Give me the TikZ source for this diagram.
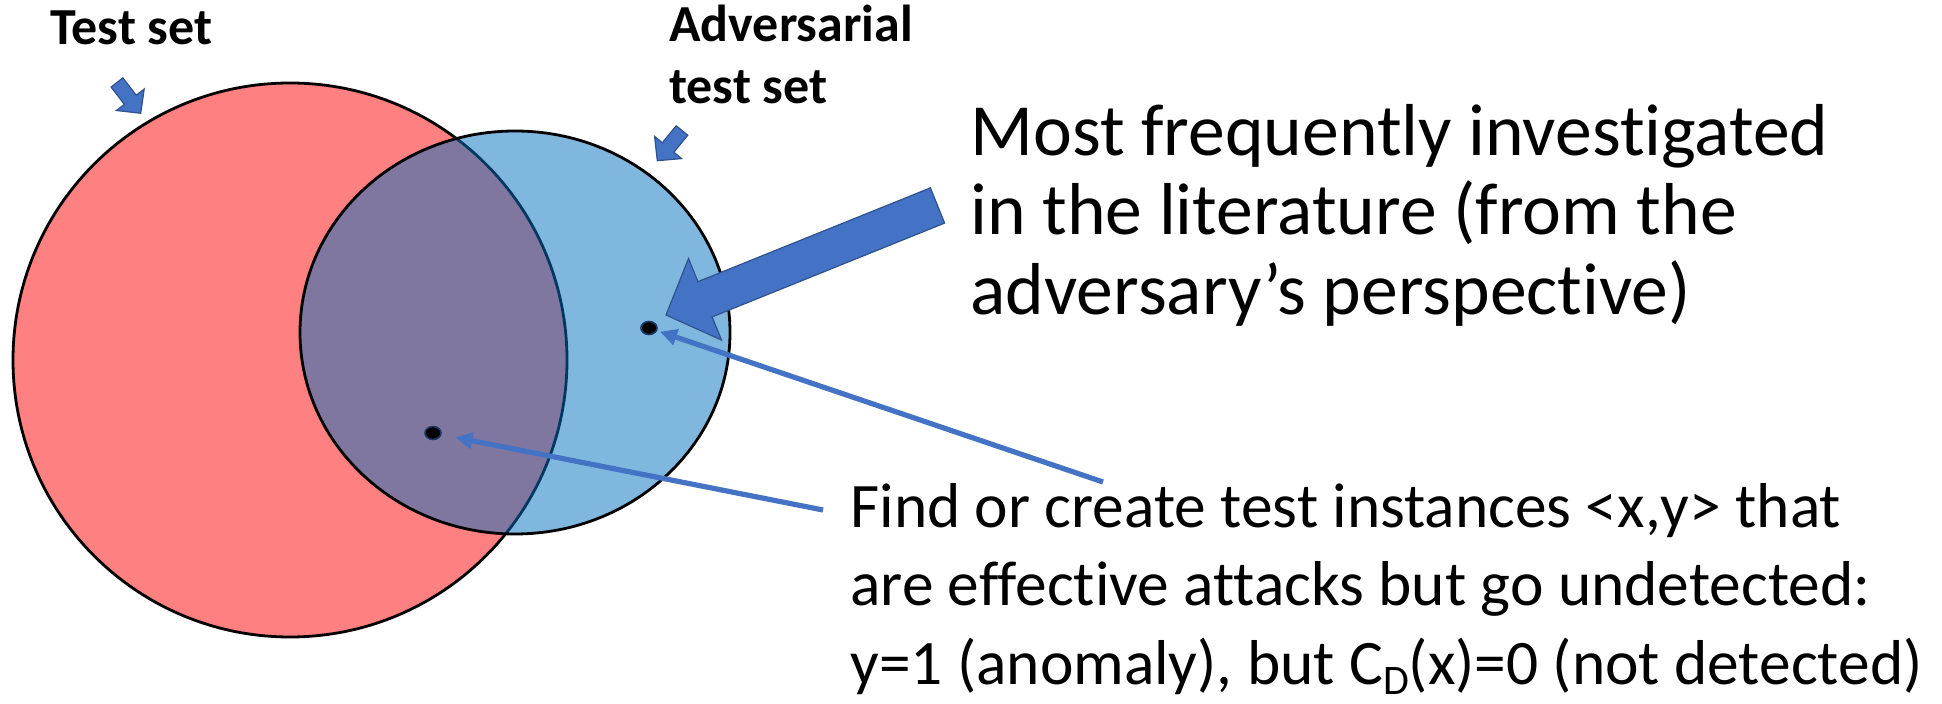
\documentclass[tikz,border=0pt]{standalone}
\usepackage{fontspec}
\setmainfont{Carlito}[Ligatures={TeX,NoCommon}]
\usetikzlibrary{arrows.meta,calc,shapes.geometric}
\definecolor{redfill}{RGB}{255,128,128}
\definecolor{bluefill}{RGB}{0,112,192}
\definecolor{arrowblue}{RGB}{68,114,196}
\definecolor{arrowedge}{RGB}{47,82,143}
\definecolor{dotedge}{RGB}{31,56,100}
\newcommand{\lowsub}[1]{\raisebox{-5pt}{\fontsize{21pt}{24pt}\selectfont #1}}
\begin{document}
\begin{tikzpicture}[x=0.5pt,y=-0.5pt,
  setshape/.style={line width=1.4pt, draw=black, inner sep=0pt},
  blockarrow/.style={fill=arrowblue, draw=arrowedge, line width=0.6pt, line join=miter},
  pointer/.style={draw=arrowblue, line width=2.6pt, -{Triangle[length=8.5pt,width=8pt]}},
  dotmark/.style={ellipse, fill=black, draw=dotedge, line width=0.8pt, minimum width=8pt, minimum height=6.5pt, inner sep=0pt},
  labeltext/.style={anchor=base west, inner sep=0pt, font=\fontsize{26pt}{31pt}\selectfont\bfseries},
  bigtext/.style={anchor=base west, inner sep=0pt, font=\fontsize{36.8pt}{40pt}\selectfont},
  notetext/.style={anchor=base west, inner sep=0pt, font=\fontsize{31.7pt}{39pt}\selectfont}]
\useasboundingbox (0,0) rectangle (1942,704);

% sets
\node[setshape, circle, fill=redfill, minimum size=277pt] (testset) at (290,360) {};
\node[setshape, ellipse, fill=bluefill, fill opacity=0.5, minimum width=215pt, minimum height=201.5pt] (advset) at (515,332.5) {};

% labels
\node[labeltext] (lbltest) at (50,44.5) {Test set};
\node[labeltext] (lbladv1) at (669,42) {Adversarial};
\node[labeltext] (lbladv2) at (669,104) {test set};

% small block arrows
\draw[blockarrow] (122.9,77.9) -- (136.2,95.2) -- (144.2,89.1) -- (140.7,113.3)
  -- (116.4,110.5) -- (124.4,104.4) -- (111.1,87.1) -- cycle;
\draw[blockarrow] (687.8,135.2) -- (673.9,152.2) -- (681.6,158.6) -- (657.3,160.7)
  -- (654.6,136.4) -- (662.3,142.8) -- (676.2,125.8) -- cycle;

% big block arrow
\draw[blockarrow] (930.4,187.9) -- (697.9,281.7) -- (688.5,258.5) -- (666,315)
  -- (721.5,340.1) -- (712.1,316.9) -- (944.6,223.1) -- cycle;

% dots
\node[dotmark] (dotin) at (433,433) {};
\node[dotmark] (dotadv) at (649,328) {};

% texts
\node[bigtext] (big1) at (970,156) {Most frequently investigated};
\node[bigtext] (big2) at (970,235) {in the literature (from the};
\node[bigtext] (big3) at (970,315) {adversary’s perspective)};

\node[notetext] (note1) at (850,528) {Find or create test instances <x,y> that};
\node[notetext] (note2) at (850,606) {are effective attacks but go undetected:};
\node[notetext] (note3) at (850,684) {y=1 (anomaly), but C\lowsub{D}(x)=0 (not detected)};

% pointers
\coordinate (srcadv) at (1103,482);
\coordinate (srcin) at (823,510);
\draw[pointer, shorten >=1.5pt] (srcadv) -- (dotadv);
\draw[pointer, shorten >=7pt] (srcin) -- (dotin);
\end{tikzpicture}
\end{document}
